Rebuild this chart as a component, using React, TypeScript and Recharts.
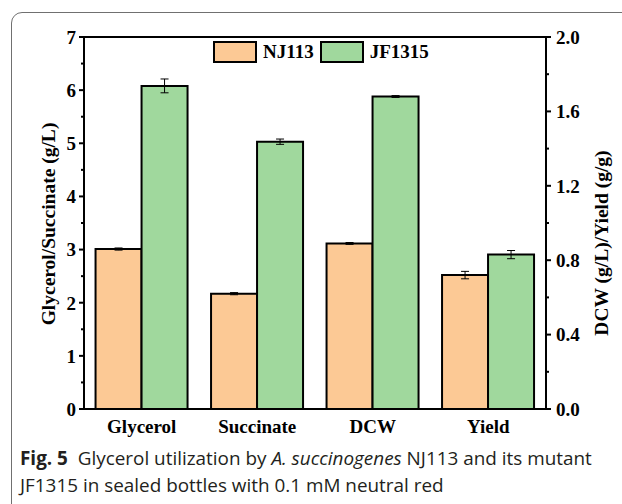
import React from "react";
import {
  BarChart,
  Bar,
  XAxis,
  YAxis,
  ErrorBar,
  Legend,
  ReferenceLine,
} from "recharts";

// Measured quantities per strain
const categories = ["Glycerol", "Succinate", "DCW", "Yield"];
// Which categories are read on the right-hand axis (DCW in g/L, yield in g/g)
const onRightAxis = [false, false, true, true];

const seriesNames = ["NJ113", "JF1315"];
const nj113Values = [3.01, 2.17, 0.89, 0.72];
const nj113Errors = [0.02, 0.02, 0.005, 0.02];
const jf1315Values = [6.08, 5.03, 1.68, 0.83];
const jf1315Errors = [0.13, 0.05, 0.005, 0.022];

const leftTicks = [0, 0.5, 1, 1.5, 2, 2.5, 3, 3.5, 4, 4.5, 5, 5.5, 6, 6.5, 7];
const rightTicks = [0, 0.2, 0.4, 0.6, 0.8, 1.0, 1.2, 1.4, 1.6, 1.8, 2.0];

const LEFT_MAX = 7;
const RIGHT_MAX = 2;
const toLeft = LEFT_MAX / RIGHT_MAX;

const COLOR_NJ = "#FCC995";
const COLOR_JF = "#A0D89D";
const FONT = "'Liberation Serif', 'Times New Roman', serif";

// Right-axis quantities are expressed in left-axis units so that both share one scale
const rows = categories.map((name, i) => {
  const k = onRightAxis[i] ? toLeft : 1;
  return {
    name,
    nj113: nj113Values[i] * k,
    nj113Err: nj113Errors[i] * k,
    jf1315: jf1315Values[i] * k,
    jf1315Err: jf1315Errors[i] * k,
  };
});

const LeftTick = (props: any) => {
  const { x, y, payload } = props;
  const v = payload.value as number;
  const major = Math.abs(v - Math.round(v)) < 1e-6;
  return (
    <g>
      <line x1={x - (major ? 5 : 3)} x2={x} y1={y} y2={y} stroke="#000" strokeWidth={2} />
      {major && (
        <text
          x={x - 8}
          y={y}
          dy="0.36em"
          textAnchor="end"
          fontFamily={FONT}
          fontWeight="bold"
          fontSize={19}
          fill="#000"
        >
          {v}
        </text>
      )}
    </g>
  );
};

const RightTick = (props: any) => {
  const { x, y, payload } = props;
  const v = payload.value as number;
  const major = Math.abs(v / 0.4 - Math.round(v / 0.4)) < 1e-6;
  return (
    <g>
      <line x1={x} x2={x + (major ? 5 : 3)} y1={y} y2={y} stroke="#000" strokeWidth={2} />
      {major && (
        <text
          x={x + 10}
          y={y}
          dy="0.36em"
          textAnchor="start"
          fontFamily={FONT}
          fontWeight="bold"
          fontSize={19}
          fill="#000"
        >
          {v.toFixed(1)}
        </text>
      )}
    </g>
  );
};

const CategoryTick = (props: any) => {
  const { x, y, payload } = props;
  return (
    <text
      x={x}
      y={y}
      dy="0.71em"
      textAnchor="middle"
      fontFamily={FONT}
      fontWeight="bold"
      fontSize={19}
      fill="#000"
    >
      {payload.value}
    </text>
  );
};

const LegendBox = (props: any) => {
  const items = [...(props.payload || [])].sort(
    (a: any, b: any) => seriesNames.indexOf(a.value) - seriesNames.indexOf(b.value)
  );
  return (
    <div style={{ display: "flex", alignItems: "center" }}>
      {items.map((it: any) => (
        <div key={it.value} style={{ display: "flex", alignItems: "center", marginRight: 6 }}>
          <div
            style={{
              width: 44,
              height: 22,
              boxSizing: "border-box",
              border: "2px solid #000",
              background: it.color,
            }}
          />
          <span
            style={{
              marginLeft: 6,
              fontFamily: FONT,
              fontWeight: "bold",
              fontSize: 19,
              color: "#000",
            }}
          >
            {it.value}
          </span>
        </div>
      ))}
    </div>
  );
};

const AxisTitle = ({ cx, cy, text }: { cx: number; cy: number; text: string }) => (
  <text
    x={cx}
    y={cy}
    transform={`rotate(-90 ${cx} ${cy})`}
    textAnchor="middle"
    dominantBaseline="central"
    fontFamily={FONT}
    fontWeight="bold"
    fontSize={19.5}
    fill="#000"
  >
    {text}
  </text>
);

export default function App() {
  return (
    <div
      style={{
        position: "absolute",
        left: 0,
        top: 0,
        width: 622,
        height: 504,
        overflow: "hidden",
        background: "#fff",
      }}
    >
      <div
        style={{
          position: "absolute",
          left: 11,
          top: 12,
          width: 720,
          height: 620,
          border: "1px solid #707070",
          borderRadius: 11,
        }}
      />
      <div style={{ position: "absolute", left: 0, top: 0 }}>
        <BarChart
          width={622}
          height={450}
          data={rows}
          margin={{ top: 37, right: 0, bottom: 0, left: 0 }}
          barCategoryGap="10%"
          barGap={0}
        >
          <XAxis
            dataKey="name"
            height={41}
            axisLine={{ stroke: "#000", strokeWidth: 2 }}
            tickLine={false}
            tickSize={0}
            tickMargin={11}
            tick={<CategoryTick />}
            interval={0}
          />
          <YAxis
            yAxisId="left"
            orientation="left"
            width={84}
            domain={[0, LEFT_MAX]}
            ticks={leftTicks}
            interval={0}
            axisLine={{ stroke: "#000", strokeWidth: 2 }}
            tickLine={false}
            tickSize={0}
            tickMargin={0}
            tick={<LeftTick />}
            label={(p: any) => (
              <AxisTitle cx={48} cy={p.viewBox.y + p.viewBox.height / 2 + 1} text="Glycerol/Succinate (g/L)" />
            )}
          />
          <YAxis
            yAxisId="right"
            orientation="right"
            width={76}
            domain={[0, RIGHT_MAX]}
            ticks={rightTicks}
            interval={0}
            allowDataOverflow
            axisLine={{ stroke: "#000", strokeWidth: 2 }}
            tickLine={false}
            tickSize={0}
            tickMargin={0}
            tick={<RightTick />}
            label={(p: any) => (
              <AxisTitle cx={601} cy={p.viewBox.y + p.viewBox.height / 2 + 20} text="DCW (g/L)/Yield (g/g)" />
            )}
          />
          <ReferenceLine yAxisId="left" y={LEFT_MAX} stroke="#000" strokeWidth={2} />
          <Legend
            verticalAlign="middle"
            align="center"
            layout="horizontal"
            wrapperStyle={{ top: 41, left: 213, width: "auto" }}
            content={<LegendBox />}
          />
          <Bar
            yAxisId="left"
            dataKey="nj113"
            name={seriesNames[0]}
            fill={COLOR_NJ}
            stroke="#000"
            strokeWidth={2}
            isAnimationActive={false}
          >
            <ErrorBar dataKey="nj113Err" width={4} stroke="#000" strokeWidth={1} />
          </Bar>
          <Bar
            yAxisId="left"
            dataKey="jf1315"
            name={seriesNames[1]}
            fill={COLOR_JF}
            stroke="#000"
            strokeWidth={2}
            isAnimationActive={false}
          >
            <ErrorBar dataKey="jf1315Err" width={4} stroke="#000" strokeWidth={1} />
          </Bar>
        </BarChart>
      </div>
      <div
        style={{
          position: "absolute",
          left: 20,
          top: 445,
          width: 600,
          fontFamily: "'Open Sans', 'Noto Sans', sans-serif",
          fontSize: 18.9,
          lineHeight: "27px",
          color: "#231f20",
          whiteSpace: "nowrap",
        }}
      >
        <div>
          <b>Fig. 5</b>&nbsp;&nbsp;Glycerol utilization by <i>A. succinogenes</i> NJ113 and its mutant
        </div>
        <div>JF1315 in sealed bottles with 0.1 mM neutral red</div>
      </div>
    </div>
  );
}
